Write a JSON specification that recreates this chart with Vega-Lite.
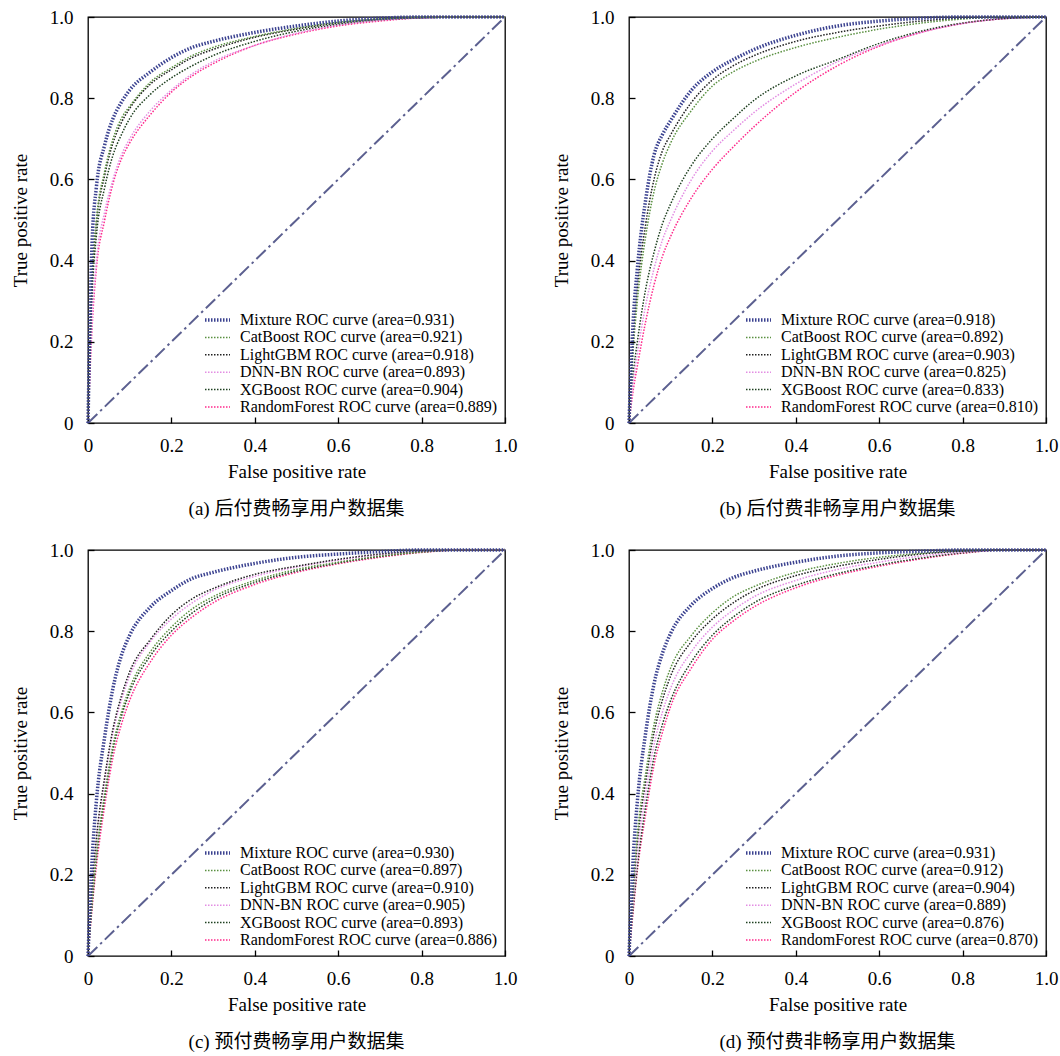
{
  "$schema": "https://vega.github.io/schema/vega-lite/v6.json",
  "background": "white",
  "padding": {"left": 10, "top": 7, "right": 5, "bottom": 5},
  "config": {
    "font": "Liberation Serif, Noto Sans CJK SC",
    "view": {"stroke": "black", "strokeWidth": 1.3},
    "axis": {"domain": false, "grid": false, "labelFontSize": 19, "labelColor": "black", "titleFontSize": 19, "titleFontWeight": "normal", "titleColor": "black", "tickColor": "black", "tickSize": -6, "tickWidth": 1.3, "labelFlush": false, "labelOverlap": false},
    "axisX": {"titlePadding": 7, "labelPadding": 19},
    "axisY": {"titlePadding": 19, "labelPadding": 21},
    "legend": {"orient": "bottom-right", "offset": 8, "padding": 0, "labelFontSize": 16, "labelColor": "black", "labelLimit": 0, "symbolType": "stroke", "symbolSize": 625, "symbolDash": [1.5, 1.5], "clipHeight": 16, "rowPadding": 1.4, "labelOffset": 8, "title": null},
    "title": {"fontSize": 19, "fontWeight": "normal", "color": "black", "orient": "bottom", "offset": 19}
  },
  "datasets": {
    "diag": [{"x": 0, "y": 0}, {"x": 1, "y": 1}],
    "a": [
      {"x": 0, "Mixture": 0, "CatBoost": 0, "LightGBM": 0, "DNN-BN": 0, "XGBoost": 0, "RandomForest": 0},
      {"x": 0.01, "Mixture": 0.45, "CatBoost": 0.36, "LightGBM": 0.35, "DNN-BN": 0.26, "XGBoost": 0.32, "RandomForest": 0.24},
      {"x": 0.02, "Mixture": 0.58, "CatBoost": 0.5, "LightGBM": 0.49, "DNN-BN": 0.4, "XGBoost": 0.46, "RandomForest": 0.38},
      {"x": 0.04, "Mixture": 0.685, "CatBoost": 0.62, "LightGBM": 0.61, "DNN-BN": 0.52, "XGBoost": 0.58, "RandomForest": 0.5},
      {"x": 0.06, "Mixture": 0.75, "CatBoost": 0.7, "LightGBM": 0.69, "DNN-BN": 0.6, "XGBoost": 0.66, "RandomForest": 0.59},
      {"x": 0.08, "Mixture": 0.79, "CatBoost": 0.75, "LightGBM": 0.74, "DNN-BN": 0.66, "XGBoost": 0.71, "RandomForest": 0.65},
      {"x": 0.1, "Mixture": 0.82, "CatBoost": 0.78, "LightGBM": 0.775, "DNN-BN": 0.7, "XGBoost": 0.75, "RandomForest": 0.69},
      {"x": 0.15, "Mixture": 0.865, "CatBoost": 0.84, "LightGBM": 0.835, "DNN-BN": 0.77, "XGBoost": 0.81, "RandomForest": 0.76},
      {"x": 0.2, "Mixture": 0.9, "CatBoost": 0.875, "LightGBM": 0.87, "DNN-BN": 0.82, "XGBoost": 0.85, "RandomForest": 0.815},
      {"x": 0.25, "Mixture": 0.925, "CatBoost": 0.905, "LightGBM": 0.9, "DNN-BN": 0.86, "XGBoost": 0.88, "RandomForest": 0.855},
      {"x": 0.3, "Mixture": 0.94, "CatBoost": 0.925, "LightGBM": 0.92, "DNN-BN": 0.89, "XGBoost": 0.905, "RandomForest": 0.885},
      {"x": 0.4, "Mixture": 0.962, "CatBoost": 0.952, "LightGBM": 0.95, "DNN-BN": 0.93, "XGBoost": 0.94, "RandomForest": 0.93},
      {"x": 0.5, "Mixture": 0.978, "CatBoost": 0.972, "LightGBM": 0.97, "DNN-BN": 0.96, "XGBoost": 0.965, "RandomForest": 0.958},
      {"x": 0.6, "Mixture": 0.99, "CatBoost": 0.987, "LightGBM": 0.985, "DNN-BN": 0.98, "XGBoost": 0.982, "RandomForest": 0.978},
      {"x": 0.7, "Mixture": 0.997, "CatBoost": 0.995, "LightGBM": 0.995, "DNN-BN": 0.992, "XGBoost": 0.993, "RandomForest": 0.99},
      {"x": 0.8, "Mixture": 1, "CatBoost": 0.999, "LightGBM": 0.999, "DNN-BN": 0.998, "XGBoost": 0.998, "RandomForest": 0.998},
      {"x": 0.9, "Mixture": 1, "CatBoost": 1, "LightGBM": 1, "DNN-BN": 1, "XGBoost": 1, "RandomForest": 1},
      {"x": 1, "Mixture": 1, "CatBoost": 1, "LightGBM": 1, "DNN-BN": 1, "XGBoost": 1, "RandomForest": 1}
    ],
    "b": [
      {"x": 0, "Mixture": 0, "CatBoost": 0, "LightGBM": 0, "DNN-BN": 0, "XGBoost": 0, "RandomForest": 0},
      {"x": 0.01, "Mixture": 0.25, "CatBoost": 0.18, "LightGBM": 0.2, "DNN-BN": 0.1, "XGBoost": 0.12, "RandomForest": 0.08},
      {"x": 0.02, "Mixture": 0.38, "CatBoost": 0.3, "LightGBM": 0.33, "DNN-BN": 0.17, "XGBoost": 0.2, "RandomForest": 0.14},
      {"x": 0.04, "Mixture": 0.55, "CatBoost": 0.46, "LightGBM": 0.49, "DNN-BN": 0.29, "XGBoost": 0.33, "RandomForest": 0.25},
      {"x": 0.06, "Mixture": 0.66, "CatBoost": 0.57, "LightGBM": 0.6, "DNN-BN": 0.38, "XGBoost": 0.42, "RandomForest": 0.34},
      {"x": 0.08, "Mixture": 0.71, "CatBoost": 0.64, "LightGBM": 0.67, "DNN-BN": 0.45, "XGBoost": 0.49, "RandomForest": 0.41},
      {"x": 0.1, "Mixture": 0.745, "CatBoost": 0.69, "LightGBM": 0.71, "DNN-BN": 0.5, "XGBoost": 0.54, "RandomForest": 0.46},
      {"x": 0.15, "Mixture": 0.82, "CatBoost": 0.77, "LightGBM": 0.79, "DNN-BN": 0.6, "XGBoost": 0.635, "RandomForest": 0.555},
      {"x": 0.2, "Mixture": 0.865, "CatBoost": 0.83, "LightGBM": 0.845, "DNN-BN": 0.67, "XGBoost": 0.7, "RandomForest": 0.625},
      {"x": 0.25, "Mixture": 0.895, "CatBoost": 0.865, "LightGBM": 0.88, "DNN-BN": 0.72, "XGBoost": 0.75, "RandomForest": 0.68},
      {"x": 0.3, "Mixture": 0.92, "CatBoost": 0.89, "LightGBM": 0.905, "DNN-BN": 0.765, "XGBoost": 0.795, "RandomForest": 0.73},
      {"x": 0.4, "Mixture": 0.955, "CatBoost": 0.925, "LightGBM": 0.94, "DNN-BN": 0.835, "XGBoost": 0.855, "RandomForest": 0.815},
      {"x": 0.5, "Mixture": 0.978, "CatBoost": 0.95, "LightGBM": 0.962, "DNN-BN": 0.89, "XGBoost": 0.895, "RandomForest": 0.88},
      {"x": 0.6, "Mixture": 0.99, "CatBoost": 0.97, "LightGBM": 0.978, "DNN-BN": 0.93, "XGBoost": 0.935, "RandomForest": 0.928},
      {"x": 0.7, "Mixture": 0.997, "CatBoost": 0.985, "LightGBM": 0.99, "DNN-BN": 0.962, "XGBoost": 0.965, "RandomForest": 0.962},
      {"x": 0.8, "Mixture": 1, "CatBoost": 0.995, "LightGBM": 0.997, "DNN-BN": 0.984, "XGBoost": 0.985, "RandomForest": 0.984},
      {"x": 0.9, "Mixture": 1, "CatBoost": 1, "LightGBM": 1, "DNN-BN": 0.996, "XGBoost": 0.996, "RandomForest": 0.996},
      {"x": 1, "Mixture": 1, "CatBoost": 1, "LightGBM": 1, "DNN-BN": 1, "XGBoost": 1, "RandomForest": 1}
    ],
    "c": [
      {"x": 0, "Mixture": 0, "CatBoost": 0, "LightGBM": 0, "DNN-BN": 0, "XGBoost": 0, "RandomForest": 0},
      {"x": 0.01, "Mixture": 0.24, "CatBoost": 0.14, "LightGBM": 0.17, "DNN-BN": 0.16, "XGBoost": 0.13, "RandomForest": 0.12},
      {"x": 0.02, "Mixture": 0.38, "CatBoost": 0.25, "LightGBM": 0.29, "DNN-BN": 0.28, "XGBoost": 0.24, "RandomForest": 0.22},
      {"x": 0.04, "Mixture": 0.54, "CatBoost": 0.4, "LightGBM": 0.44, "DNN-BN": 0.43, "XGBoost": 0.39, "RandomForest": 0.37},
      {"x": 0.06, "Mixture": 0.66, "CatBoost": 0.52, "LightGBM": 0.56, "DNN-BN": 0.55, "XGBoost": 0.51, "RandomForest": 0.49},
      {"x": 0.08, "Mixture": 0.74, "CatBoost": 0.6, "LightGBM": 0.64, "DNN-BN": 0.63, "XGBoost": 0.59, "RandomForest": 0.57},
      {"x": 0.1, "Mixture": 0.79, "CatBoost": 0.66, "LightGBM": 0.7, "DNN-BN": 0.69, "XGBoost": 0.65, "RandomForest": 0.63},
      {"x": 0.15, "Mixture": 0.86, "CatBoost": 0.75, "LightGBM": 0.78, "DNN-BN": 0.775, "XGBoost": 0.74, "RandomForest": 0.725},
      {"x": 0.2, "Mixture": 0.9, "CatBoost": 0.81, "LightGBM": 0.84, "DNN-BN": 0.83, "XGBoost": 0.8, "RandomForest": 0.79},
      {"x": 0.25, "Mixture": 0.93, "CatBoost": 0.855, "LightGBM": 0.88, "DNN-BN": 0.87, "XGBoost": 0.845, "RandomForest": 0.835},
      {"x": 0.3, "Mixture": 0.945, "CatBoost": 0.885, "LightGBM": 0.905, "DNN-BN": 0.9, "XGBoost": 0.878, "RandomForest": 0.87},
      {"x": 0.4, "Mixture": 0.967, "CatBoost": 0.925, "LightGBM": 0.94, "DNN-BN": 0.935, "XGBoost": 0.92, "RandomForest": 0.915},
      {"x": 0.5, "Mixture": 0.982, "CatBoost": 0.952, "LightGBM": 0.96, "DNN-BN": 0.958, "XGBoost": 0.948, "RandomForest": 0.945},
      {"x": 0.6, "Mixture": 0.99, "CatBoost": 0.97, "LightGBM": 0.977, "DNN-BN": 0.975, "XGBoost": 0.968, "RandomForest": 0.966},
      {"x": 0.7, "Mixture": 0.996, "CatBoost": 0.985, "LightGBM": 0.99, "DNN-BN": 0.988, "XGBoost": 0.984, "RandomForest": 0.982},
      {"x": 0.8, "Mixture": 1, "CatBoost": 0.995, "LightGBM": 0.997, "DNN-BN": 0.996, "XGBoost": 0.995, "RandomForest": 0.994},
      {"x": 0.9, "Mixture": 1, "CatBoost": 1, "LightGBM": 1, "DNN-BN": 1, "XGBoost": 1, "RandomForest": 1},
      {"x": 1, "Mixture": 1, "CatBoost": 1, "LightGBM": 1, "DNN-BN": 1, "XGBoost": 1, "RandomForest": 1}
    ],
    "d": [
      {"x": 0, "Mixture": 0, "CatBoost": 0, "LightGBM": 0, "DNN-BN": 0, "XGBoost": 0, "RandomForest": 0},
      {"x": 0.01, "Mixture": 0.24, "CatBoost": 0.17, "LightGBM": 0.16, "DNN-BN": 0.14, "XGBoost": 0.12, "RandomForest": 0.11},
      {"x": 0.02, "Mixture": 0.38, "CatBoost": 0.3, "LightGBM": 0.28, "DNN-BN": 0.25, "XGBoost": 0.22, "RandomForest": 0.21},
      {"x": 0.04, "Mixture": 0.55, "CatBoost": 0.45, "LightGBM": 0.43, "DNN-BN": 0.4, "XGBoost": 0.37, "RandomForest": 0.35},
      {"x": 0.06, "Mixture": 0.67, "CatBoost": 0.57, "LightGBM": 0.55, "DNN-BN": 0.52, "XGBoost": 0.49, "RandomForest": 0.47},
      {"x": 0.08, "Mixture": 0.745, "CatBoost": 0.65, "LightGBM": 0.63, "DNN-BN": 0.6, "XGBoost": 0.57, "RandomForest": 0.55},
      {"x": 0.1, "Mixture": 0.795, "CatBoost": 0.71, "LightGBM": 0.69, "DNN-BN": 0.66, "XGBoost": 0.63, "RandomForest": 0.615},
      {"x": 0.15, "Mixture": 0.865, "CatBoost": 0.79, "LightGBM": 0.775, "DNN-BN": 0.75, "XGBoost": 0.725, "RandomForest": 0.71},
      {"x": 0.2, "Mixture": 0.905, "CatBoost": 0.845, "LightGBM": 0.83, "DNN-BN": 0.81, "XGBoost": 0.79, "RandomForest": 0.78},
      {"x": 0.25, "Mixture": 0.932, "CatBoost": 0.885, "LightGBM": 0.87, "DNN-BN": 0.852, "XGBoost": 0.835, "RandomForest": 0.825},
      {"x": 0.3, "Mixture": 0.948, "CatBoost": 0.91, "LightGBM": 0.9, "DNN-BN": 0.885, "XGBoost": 0.87, "RandomForest": 0.86},
      {"x": 0.4, "Mixture": 0.97, "CatBoost": 0.945, "LightGBM": 0.937, "DNN-BN": 0.925, "XGBoost": 0.913, "RandomForest": 0.907},
      {"x": 0.5, "Mixture": 0.985, "CatBoost": 0.967, "LightGBM": 0.96, "DNN-BN": 0.952, "XGBoost": 0.942, "RandomForest": 0.938},
      {"x": 0.6, "Mixture": 0.993, "CatBoost": 0.982, "LightGBM": 0.977, "DNN-BN": 0.97, "XGBoost": 0.963, "RandomForest": 0.96},
      {"x": 0.7, "Mixture": 0.997, "CatBoost": 0.992, "LightGBM": 0.99, "DNN-BN": 0.985, "XGBoost": 0.98, "RandomForest": 0.978},
      {"x": 0.8, "Mixture": 1, "CatBoost": 0.998, "LightGBM": 0.997, "DNN-BN": 0.995, "XGBoost": 0.993, "RandomForest": 0.992},
      {"x": 0.9, "Mixture": 1, "CatBoost": 1, "LightGBM": 1, "DNN-BN": 1, "XGBoost": 1, "RandomForest": 1},
      {"x": 1, "Mixture": 1, "CatBoost": 1, "LightGBM": 1, "DNN-BN": 1, "XGBoost": 1, "RandomForest": 1}
    ],
    "la": [
      {"m": "Mixture", "ord": 1, "label": "Mixture ROC curve (area=0.931)"},
      {"m": "CatBoost", "ord": 2, "label": "CatBoost ROC curve (area=0.921)"},
      {"m": "LightGBM", "ord": 3, "label": "LightGBM ROC curve (area=0.918)"},
      {"m": "DNN-BN", "ord": 4, "label": "DNN-BN ROC curve (area=0.893)"},
      {"m": "XGBoost", "ord": 5, "label": "XGBoost ROC curve (area=0.904)"},
      {"m": "RandomForest", "ord": 6, "label": "RandomForest ROC curve (area=0.889)"}
    ],
    "lb": [
      {"m": "Mixture", "ord": 1, "label": "Mixture ROC curve (area=0.918)"},
      {"m": "CatBoost", "ord": 2, "label": "CatBoost ROC curve (area=0.892)"},
      {"m": "LightGBM", "ord": 3, "label": "LightGBM ROC curve (area=0.903)"},
      {"m": "DNN-BN", "ord": 4, "label": "DNN-BN ROC curve (area=0.825)"},
      {"m": "XGBoost", "ord": 5, "label": "XGBoost ROC curve (area=0.833)"},
      {"m": "RandomForest", "ord": 6, "label": "RandomForest ROC curve (area=0.810)"}
    ],
    "lc": [
      {"m": "Mixture", "ord": 1, "label": "Mixture ROC curve (area=0.930)"},
      {"m": "CatBoost", "ord": 2, "label": "CatBoost ROC curve (area=0.897)"},
      {"m": "LightGBM", "ord": 3, "label": "LightGBM ROC curve (area=0.910)"},
      {"m": "DNN-BN", "ord": 4, "label": "DNN-BN ROC curve (area=0.905)"},
      {"m": "XGBoost", "ord": 5, "label": "XGBoost ROC curve (area=0.893)"},
      {"m": "RandomForest", "ord": 6, "label": "RandomForest ROC curve (area=0.886)"}
    ],
    "ld": [
      {"m": "Mixture", "ord": 1, "label": "Mixture ROC curve (area=0.931)"},
      {"m": "CatBoost", "ord": 2, "label": "CatBoost ROC curve (area=0.912)"},
      {"m": "LightGBM", "ord": 3, "label": "LightGBM ROC curve (area=0.904)"},
      {"m": "DNN-BN", "ord": 4, "label": "DNN-BN ROC curve (area=0.889)"},
      {"m": "XGBoost", "ord": 5, "label": "XGBoost ROC curve (area=0.876)"},
      {"m": "RandomForest", "ord": 6, "label": "RandomForest ROC curve (area=0.870)"}
    ]
  },
  "columns": 2,
  "spacing": {"row": 20, "column": 33},
  "resolve": {"scale": {"color": "independent", "strokeWidth": "independent", "x": "independent", "y": "independent"}, "legend": {"color": "independent", "strokeWidth": "independent"}},
  "concat": [
    {
      "width": 417, "height": 406,
      "title": {"text": "(a) 后付费畅享用户数据集"},
      "encoding": {
        "x": {"field": "x", "type": "quantitative", "scale": {"domain": [0, 1], "nice": false}, "axis": {"title": "False positive rate", "values": [0, 0.2, 0.4, 0.6, 0.8, 1], "labelExpr": "datum.value == 0 ? '0' : format(datum.value, '.1f')"}},
        "y": {"field": "y", "type": "quantitative", "scale": {"domain": [0, 1], "nice": false}, "axis": {"title": "True positive rate", "values": [0, 0.2, 0.4, 0.6, 0.8, 1], "labelExpr": "datum.value == 0 ? '0' : format(datum.value, '.1f')"}}
      },
      "layer": [
        {"data": {"name": "diag"}, "mark": {"type": "line", "stroke": "#5c6090", "strokeWidth": 2, "strokeDash": [13, 4, 2.5, 4]}},
        {"data": {"name": "a"},
         "transform": [{"fold": ["RandomForest", "XGBoost", "DNN-BN", "LightGBM", "CatBoost", "Mixture"], "as": ["m", "y"]}, {"lookup": "m", "from": {"data": {"name": "la"}, "key": "m", "fields": ["label", "ord"]}}],
         "mark": {"type": "line", "interpolate": "monotone", "strokeDash": [1.5, 1.5]},
         "encoding": {
           "color": {"field": "label", "type": "nominal", "sort": {"field": "ord", "op": "min"}, "scale": {"range": ["#3b4290", "#5a9040", "#202020", "#e38ee3", "#1f4020", "#ff2a8c"]}},
           "strokeWidth": {"field": "label", "type": "nominal", "sort": {"field": "ord", "op": "min"}, "scale": {"type": "ordinal", "range": [3.5, 1.5, 1.5, 1.5, 1.5, 1.5]}}
         }}
      ]
    },
    {
      "width": 417, "height": 406,
      "title": {"text": "(b) 后付费非畅享用户数据集"},
      "encoding": {
        "x": {"field": "x", "type": "quantitative", "scale": {"domain": [0, 1], "nice": false}, "axis": {"title": "False positive rate", "values": [0, 0.2, 0.4, 0.6, 0.8, 1], "labelExpr": "datum.value == 0 ? '0' : format(datum.value, '.1f')"}},
        "y": {"field": "y", "type": "quantitative", "scale": {"domain": [0, 1], "nice": false}, "axis": {"title": "True positive rate", "values": [0, 0.2, 0.4, 0.6, 0.8, 1], "labelExpr": "datum.value == 0 ? '0' : format(datum.value, '.1f')"}}
      },
      "layer": [
        {"data": {"name": "diag"}, "mark": {"type": "line", "stroke": "#5c6090", "strokeWidth": 2, "strokeDash": [13, 4, 2.5, 4]}},
        {"data": {"name": "b"},
         "transform": [{"fold": ["RandomForest", "XGBoost", "DNN-BN", "LightGBM", "CatBoost", "Mixture"], "as": ["m", "y"]}, {"lookup": "m", "from": {"data": {"name": "lb"}, "key": "m", "fields": ["label", "ord"]}}],
         "mark": {"type": "line", "interpolate": "monotone", "strokeDash": [1.5, 1.5]},
         "encoding": {
           "color": {"field": "label", "type": "nominal", "sort": {"field": "ord", "op": "min"}, "scale": {"range": ["#3b4290", "#5a9040", "#202020", "#e38ee3", "#1f4020", "#ff2a8c"]}},
           "strokeWidth": {"field": "label", "type": "nominal", "sort": {"field": "ord", "op": "min"}, "scale": {"type": "ordinal", "range": [3.5, 1.5, 1.5, 1.5, 1.5, 1.5]}}
         }}
      ]
    },
    {
      "width": 417, "height": 406,
      "title": {"text": "(c) 预付费畅享用户数据集"},
      "encoding": {
        "x": {"field": "x", "type": "quantitative", "scale": {"domain": [0, 1], "nice": false}, "axis": {"title": "False positive rate", "values": [0, 0.2, 0.4, 0.6, 0.8, 1], "labelExpr": "datum.value == 0 ? '0' : format(datum.value, '.1f')"}},
        "y": {"field": "y", "type": "quantitative", "scale": {"domain": [0, 1], "nice": false}, "axis": {"title": "True positive rate", "values": [0, 0.2, 0.4, 0.6, 0.8, 1], "labelExpr": "datum.value == 0 ? '0' : format(datum.value, '.1f')"}}
      },
      "layer": [
        {"data": {"name": "diag"}, "mark": {"type": "line", "stroke": "#5c6090", "strokeWidth": 2, "strokeDash": [13, 4, 2.5, 4]}},
        {"data": {"name": "c"},
         "transform": [{"fold": ["RandomForest", "XGBoost", "DNN-BN", "LightGBM", "CatBoost", "Mixture"], "as": ["m", "y"]}, {"lookup": "m", "from": {"data": {"name": "lc"}, "key": "m", "fields": ["label", "ord"]}}],
         "mark": {"type": "line", "interpolate": "monotone", "strokeDash": [1.5, 1.5]},
         "encoding": {
           "color": {"field": "label", "type": "nominal", "sort": {"field": "ord", "op": "min"}, "scale": {"range": ["#3b4290", "#5a9040", "#202020", "#e38ee3", "#1f4020", "#ff2a8c"]}},
           "strokeWidth": {"field": "label", "type": "nominal", "sort": {"field": "ord", "op": "min"}, "scale": {"type": "ordinal", "range": [3.5, 1.5, 1.5, 1.5, 1.5, 1.5]}}
         }}
      ]
    },
    {
      "width": 417, "height": 406,
      "title": {"text": "(d) 预付费非畅享用户数据集"},
      "encoding": {
        "x": {"field": "x", "type": "quantitative", "scale": {"domain": [0, 1], "nice": false}, "axis": {"title": "False positive rate", "values": [0, 0.2, 0.4, 0.6, 0.8, 1], "labelExpr": "datum.value == 0 ? '0' : format(datum.value, '.1f')"}},
        "y": {"field": "y", "type": "quantitative", "scale": {"domain": [0, 1], "nice": false}, "axis": {"title": "True positive rate", "values": [0, 0.2, 0.4, 0.6, 0.8, 1], "labelExpr": "datum.value == 0 ? '0' : format(datum.value, '.1f')"}}
      },
      "layer": [
        {"data": {"name": "diag"}, "mark": {"type": "line", "stroke": "#5c6090", "strokeWidth": 2, "strokeDash": [13, 4, 2.5, 4]}},
        {"data": {"name": "d"},
         "transform": [{"fold": ["RandomForest", "XGBoost", "DNN-BN", "LightGBM", "CatBoost", "Mixture"], "as": ["m", "y"]}, {"lookup": "m", "from": {"data": {"name": "ld"}, "key": "m", "fields": ["label", "ord"]}}],
         "mark": {"type": "line", "interpolate": "monotone", "strokeDash": [1.5, 1.5]},
         "encoding": {
           "color": {"field": "label", "type": "nominal", "sort": {"field": "ord", "op": "min"}, "scale": {"range": ["#3b4290", "#5a9040", "#202020", "#e38ee3", "#1f4020", "#ff2a8c"]}},
           "strokeWidth": {"field": "label", "type": "nominal", "sort": {"field": "ord", "op": "min"}, "scale": {"type": "ordinal", "range": [3.5, 1.5, 1.5, 1.5, 1.5, 1.5]}}
         }}
      ]
    }
  ]
}
